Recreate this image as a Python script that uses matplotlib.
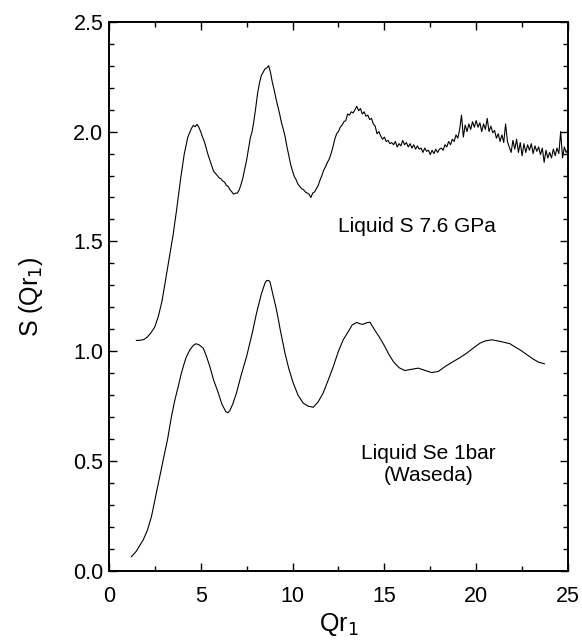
import matplotlib.pyplot as plt
from matplotlib.ticker import MultipleLocator

plt.rcParams["font.family"] = ["Liberation Sans", "DejaVu Sans"]

# Liquid S at 7.6 GPa (noisy data)
s_x = [1.5, 1.7, 1.9, 2.1, 2.3, 2.5, 2.7, 2.9, 3.1, 3.3, 3.5, 3.7, 3.9, 4.1, 4.3,
       4.5, 4.6, 4.7, 4.8, 4.9, 5.0, 5.1, 5.2, 5.3, 5.4, 5.5, 5.6, 5.7, 5.8, 5.9,
       6.0, 6.1, 6.2, 6.3, 6.4, 6.5, 6.6, 6.7, 6.8, 6.9, 7.0, 7.1, 7.2, 7.3, 7.4,
       7.5, 7.6, 7.7, 7.8, 7.9, 8.0, 8.1, 8.2, 8.3, 8.4, 8.5, 8.6, 8.7, 8.8, 8.9,
       9.0, 9.1, 9.2, 9.3, 9.4, 9.5, 9.6, 9.7, 9.8, 9.9, 10.0, 10.1, 10.2, 10.3,
       10.4, 10.5, 10.6, 10.7, 10.8, 10.9, 11.0, 11.1, 11.2, 11.3, 11.4, 11.5,
       11.6, 11.7, 11.8, 11.9, 12.0, 12.1, 12.2, 12.3, 12.4, 12.5, 12.6, 12.7,
       12.8, 12.9, 13.0, 13.1, 13.2, 13.3, 13.4, 13.5, 13.6, 13.7, 13.8, 13.9,
       14.0, 14.1, 14.2, 14.3, 14.4, 14.5, 14.6, 14.7, 14.8, 14.9,
       15.0, 15.1, 15.2, 15.3, 15.4, 15.5, 15.6, 15.7, 15.8, 15.9,
       16.0, 16.1, 16.2, 16.3, 16.4, 16.5, 16.6, 16.7, 16.8, 16.9,
       17.0, 17.1, 17.2, 17.3, 17.4, 17.5, 17.6, 17.7, 17.8, 17.9,
       18.0, 18.1, 18.2, 18.3, 18.4, 18.5, 18.6, 18.7, 18.8, 18.9,
       19.0, 19.1, 19.2, 19.3, 19.4, 19.5, 19.6, 19.7, 19.8, 19.9,
       20.0, 20.1, 20.2, 20.3, 20.4, 20.5, 20.6, 20.7, 20.8, 20.9,
       21.0, 21.1, 21.2, 21.3, 21.4, 21.5, 21.6, 21.7, 21.8, 21.9,
       22.0, 22.1, 22.2, 22.3, 22.4, 22.5, 22.6, 22.7, 22.8, 22.9,
       23.0, 23.1, 23.2, 23.3, 23.4, 23.5, 23.6, 23.7, 23.8, 23.9,
       24.0, 24.1, 24.2, 24.3, 24.4, 24.5, 24.6, 24.7, 24.8, 24.9, 25.0]
s_y = [1.049, 1.050, 1.053, 1.065, 1.085, 1.11, 1.16, 1.23, 1.33, 1.43, 1.53,
       1.65, 1.78, 1.895, 1.975, 2.015, 2.028, 2.022, 2.033, 2.02, 2.0, 1.975,
       1.955, 1.925, 1.895, 1.87, 1.845, 1.82, 1.81, 1.80, 1.79, 1.785, 1.775,
       1.77, 1.755, 1.75, 1.735, 1.725, 1.715, 1.72, 1.72, 1.735, 1.76, 1.79,
       1.83, 1.87, 1.92, 1.97, 2.0, 2.05, 2.11, 2.175, 2.22, 2.255, 2.27, 2.285,
       2.29, 2.30, 2.27, 2.225, 2.19, 2.15, 2.115, 2.08, 2.04, 2.01, 1.975, 1.93,
       1.89, 1.85, 1.82, 1.795, 1.78, 1.76, 1.75, 1.74, 1.735, 1.725, 1.72,
       1.715, 1.70, 1.72, 1.725, 1.74, 1.755, 1.78, 1.80, 1.825, 1.84, 1.86,
       1.875, 1.90, 1.93, 1.965, 1.99, 2.0, 2.02, 2.03, 2.045, 2.05, 2.08, 2.075,
       2.09, 2.085, 2.10, 2.115, 2.095, 2.105, 2.08, 2.09,
       2.07, 2.075, 2.055, 2.06, 2.035, 2.025, 1.99, 2.0, 1.98, 1.965,
       1.975, 1.955, 1.96, 1.945, 1.95, 1.94, 1.955, 1.93, 1.945, 1.935,
       1.96, 1.94, 1.95, 1.93, 1.945, 1.925, 1.94, 1.92, 1.935, 1.92,
       1.925, 1.905, 1.925, 1.91, 1.915, 1.895, 1.915, 1.90, 1.92, 1.905,
       1.92, 1.925, 1.915, 1.94, 1.93, 1.955, 1.94, 1.965, 1.955, 1.985,
       1.97, 2.01, 2.075, 1.975, 2.03, 2.0, 2.035, 2.01, 2.045, 2.02,
       2.05, 2.02, 2.04, 2.0, 2.035, 2.01, 2.06, 2.0, 2.025, 1.995,
       2.005, 1.97, 1.99, 1.955, 1.985, 1.95, 2.035, 1.955, 1.93, 1.905,
       1.96, 1.92, 1.965, 1.905, 1.95, 1.89, 1.945, 1.905, 1.94, 1.915,
       1.945, 1.90, 1.935, 1.91, 1.93, 1.895, 1.925, 1.86, 1.915, 1.88,
       1.905, 1.88, 1.92, 1.89, 1.925, 1.90, 2.0, 1.88, 1.93, 1.905, 1.92]

# Liquid Se at 1 bar (Waseda)
se_x = [1.24, 1.5, 1.87, 2.1, 2.32, 2.6, 2.96, 3.2, 3.41, 3.6, 3.78, 3.92, 4.05,
        4.2, 4.41, 4.6, 4.74, 4.9, 5.14, 5.3, 5.5, 5.7, 5.96, 6.15, 6.37, 6.48,
        6.59, 6.75, 6.95, 7.2, 7.5, 7.8, 8.04, 8.3, 8.5, 8.59, 8.7, 8.77, 8.9,
        9.13, 9.35, 9.59, 9.8, 10.04, 10.3, 10.58, 10.85, 11.13, 11.4, 11.67,
        11.95, 12.22, 12.5, 12.76, 13.04, 13.25, 13.49, 13.7, 13.85, 14.05,
        14.22, 14.45, 14.76, 15.03, 15.25, 15.49, 15.8, 16.12, 16.5, 16.85, 17.2,
        17.57, 17.94, 18.3, 18.75, 19.1, 19.48, 19.85, 20.21, 20.5, 20.84, 21.3,
        21.84, 22.1, 22.39, 22.75, 23.11, 23.4, 23.71]
se_y = [0.065, 0.09, 0.141, 0.185, 0.247, 0.36, 0.505, 0.60, 0.703, 0.78, 0.84,
        0.89, 0.93, 0.97, 1.006, 1.027, 1.034, 1.03, 1.014, 0.98, 0.93, 0.87,
        0.81, 0.76, 0.725, 0.72, 0.73, 0.76, 0.81, 0.89, 0.976, 1.08, 1.173,
        1.26, 1.31, 1.322, 1.322, 1.317, 1.27, 1.188, 1.09, 0.991, 0.92, 0.855,
        0.80, 0.764, 0.75, 0.745, 0.77, 0.81, 0.87, 0.93, 1.0, 1.052, 1.09, 1.12,
        1.131, 1.124, 1.123, 1.13, 1.132, 1.10, 1.06, 1.021, 0.985, 0.953, 0.925,
        0.912, 0.918, 0.923, 0.913, 0.903, 0.908, 0.93, 0.953, 0.97, 0.991,
        1.015, 1.037, 1.047, 1.052, 1.045, 1.034, 1.02, 1.006, 0.985, 0.964,
        0.95, 0.943]

fig = plt.figure(figsize=(5.82, 6.4), dpi=100)
ax = fig.add_axes([0.187, 0.108, 0.789, 0.858])

ax.plot(s_x, s_y, color="black", lw=0.8)
ax.plot(se_x, se_y, color="black", lw=0.8)

ax.text(16.8, 1.567, "Liquid S 7.6 GPa", ha="center", va="center", fontsize=15)
ax.text(17.4, 0.483, "Liquid Se 1bar\n(Waseda)", ha="center", va="center",
        fontsize=15, linespacing=1.2)

ax.set_xlim(0, 25)
ax.set_ylim(0, 2.5)
ax.xaxis.set_major_locator(MultipleLocator(5))
ax.xaxis.set_minor_locator(MultipleLocator(2.5))
ax.yaxis.set_major_locator(MultipleLocator(0.5))
ax.yaxis.set_minor_locator(MultipleLocator(0.1))
ax.yaxis.set_major_formatter(plt.FormatStrFormatter("%.1f"))
ax.tick_params(which="both", direction="in", top=True, right=True,
               labelsize=15.5, width=1.0)
ax.tick_params(which="major", length=6)
ax.tick_params(which="minor", length=3.5)
ax.tick_params(axis="x", which="major", pad=11)
ax.tick_params(axis="y", which="major", pad=4)
for sp in ax.spines.values():
    sp.set_linewidth(1.4)

ax.set_xlabel("Qr$_1$", fontsize=18, labelpad=3)
ax.set_ylabel("S (Qr$_1$)", fontsize=18, labelpad=20)

fig.savefig("out.png", dpi=100)
